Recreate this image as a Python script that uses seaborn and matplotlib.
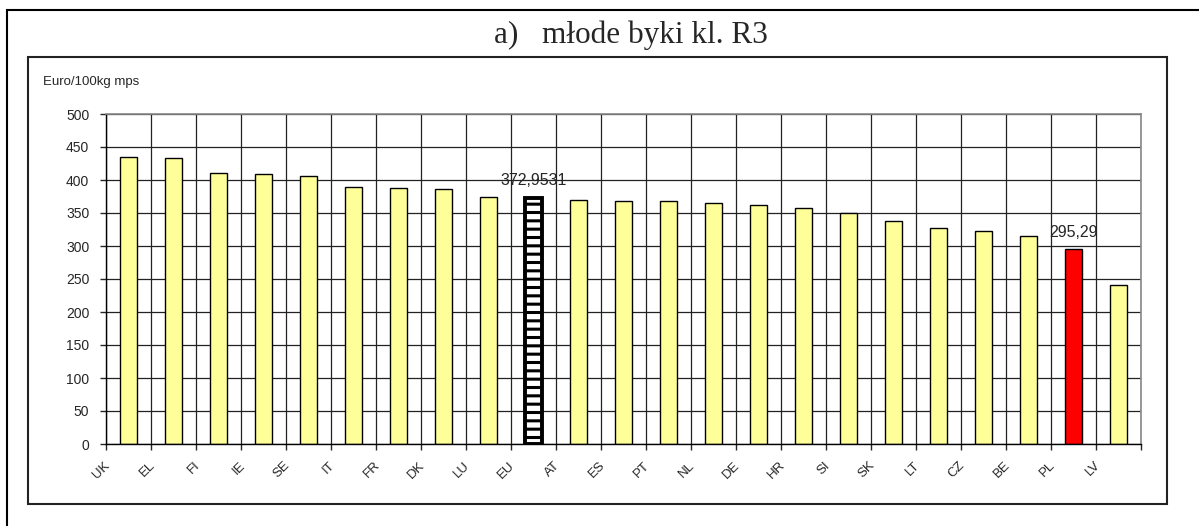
import numpy as np
import pandas as pd
import matplotlib.pyplot as plt
from matplotlib.patches import Rectangle
import seaborn as sns

# ceny mlodych bykow kl. R3, Euro/100kg mps
countries = ['UK', 'EL', 'FI', 'IE', 'SE', 'IT', 'FR', 'DK', 'LU', 'EU', 'AT', 'ES',
             'PT', 'NL', 'DE', 'HR', 'SI', 'SK', 'LT', 'CZ', 'BE', 'PL', 'LV']
prices = [435.5, 433.5, 411, 409, 405.5, 390, 388, 386, 373.5, 372.9531, 369.5, 367.5,
          367.5, 365.5, 362, 357.5, 350, 337.5, 328, 322, 314.5, 295.29, 241.5]
labelled = ['EU', 'PL']

W, H = 1199, 526

sns.set_style('white')
plt.rcParams['font.family'] = ['Liberation Sans', 'DejaVu Sans']
plt.rcParams['hatch.linewidth'] = 2.2

df = pd.DataFrame({'kraj': countries, 'cena': prices})
colors = {c: '#FFFF99' for c in countries}
colors['PL'] = '#FF0000'
colors['EU'] = 'white'

fig = plt.figure(figsize=(W / 100, H / 100), dpi=100)
ax = fig.add_axes([106 / W, 1 - 444 / H, (1141 - 106) / W, (444 - 114) / H])

sns.barplot(data=df, x='kraj', y='cena', hue='kraj', palette=colors, width=0.38,
            edgecolor='black', linewidth=1, saturation=1, legend=False, ax=ax)

# EU bar with brick-like hatch
eu_pos = countries.index('EU')
for p in ax.patches:
    if round(p.get_x() + p.get_width() / 2) == eu_pos:
        p.set_hatch('--')
        p.set_linewidth(2.8)

n = len(countries)
ax.set_xlim(-0.5, n - 0.5)
ax.set_ylim(0, 500)
ax.set_yticks(range(0, 501, 50))
# gridlines and tick marks on category borders, labels just right of them
ax.set_xticks(np.arange(n + 1) - 0.5)
ax.set_xticklabels([])
ax.set_xticks(np.arange(n) - 0.5 + 0.14, minor=True)
ax.set_xticklabels(countries, minor=True, rotation=45, ha='right', va='top', fontsize=9.5)
ax.tick_params(axis='x', which='major', bottom=True, length=4, width=1, direction='out')
ax.tick_params(axis='x', which='minor', bottom=True, length=0, pad=11)
ax.tick_params(axis='y', left=True, length=4, width=1, pad=8, direction='out', labelsize=10)
ax.set_xlabel('')
ax.set_ylabel('')

ax.grid(True, which='major', color='#222222', linewidth=0.9)
ax.set_axisbelow(True)
for s in ['left', 'bottom']:
    ax.spines[s].set_color('black')
    ax.spines[s].set_linewidth(1)
for s in ['top', 'right']:
    ax.spines[s].set_color('#888888')
    ax.spines[s].set_linewidth(1.2)

for name in labelled:
    i = countries.index(name)
    v = prices[i]
    ax.annotate(str(v).replace('.', ','), (i, v), xytext=(0, 9), textcoords='offset points',
                ha='center', va='baseline', fontsize=11.5)

# chart frames
fig.add_artist(Rectangle((28 / W, 1 - 504 / H), (1167 - 28) / W, (504 - 57) / H,
                         transform=fig.transFigure, fill=False, edgecolor='#222222', linewidth=1.5))
fig.add_artist(Rectangle((7 / W, -0.05), 1.1, 1 - 10 / H + 0.05,
                         transform=fig.transFigure, fill=False, edgecolor='black', linewidth=1.5))

fig.text(494 / W, 1 - 43 / H, 'a)   młode byki kl. R3', family=['Liberation Serif', 'DejaVu Serif'],
         fontsize=22.5, ha='left', va='baseline')
fig.text(42.7 / W, 1 - 84.7 / H, 'Euro/100kg mps', fontsize=9.5, ha='left', va='baseline')

fig.savefig('out.png', dpi=100)
